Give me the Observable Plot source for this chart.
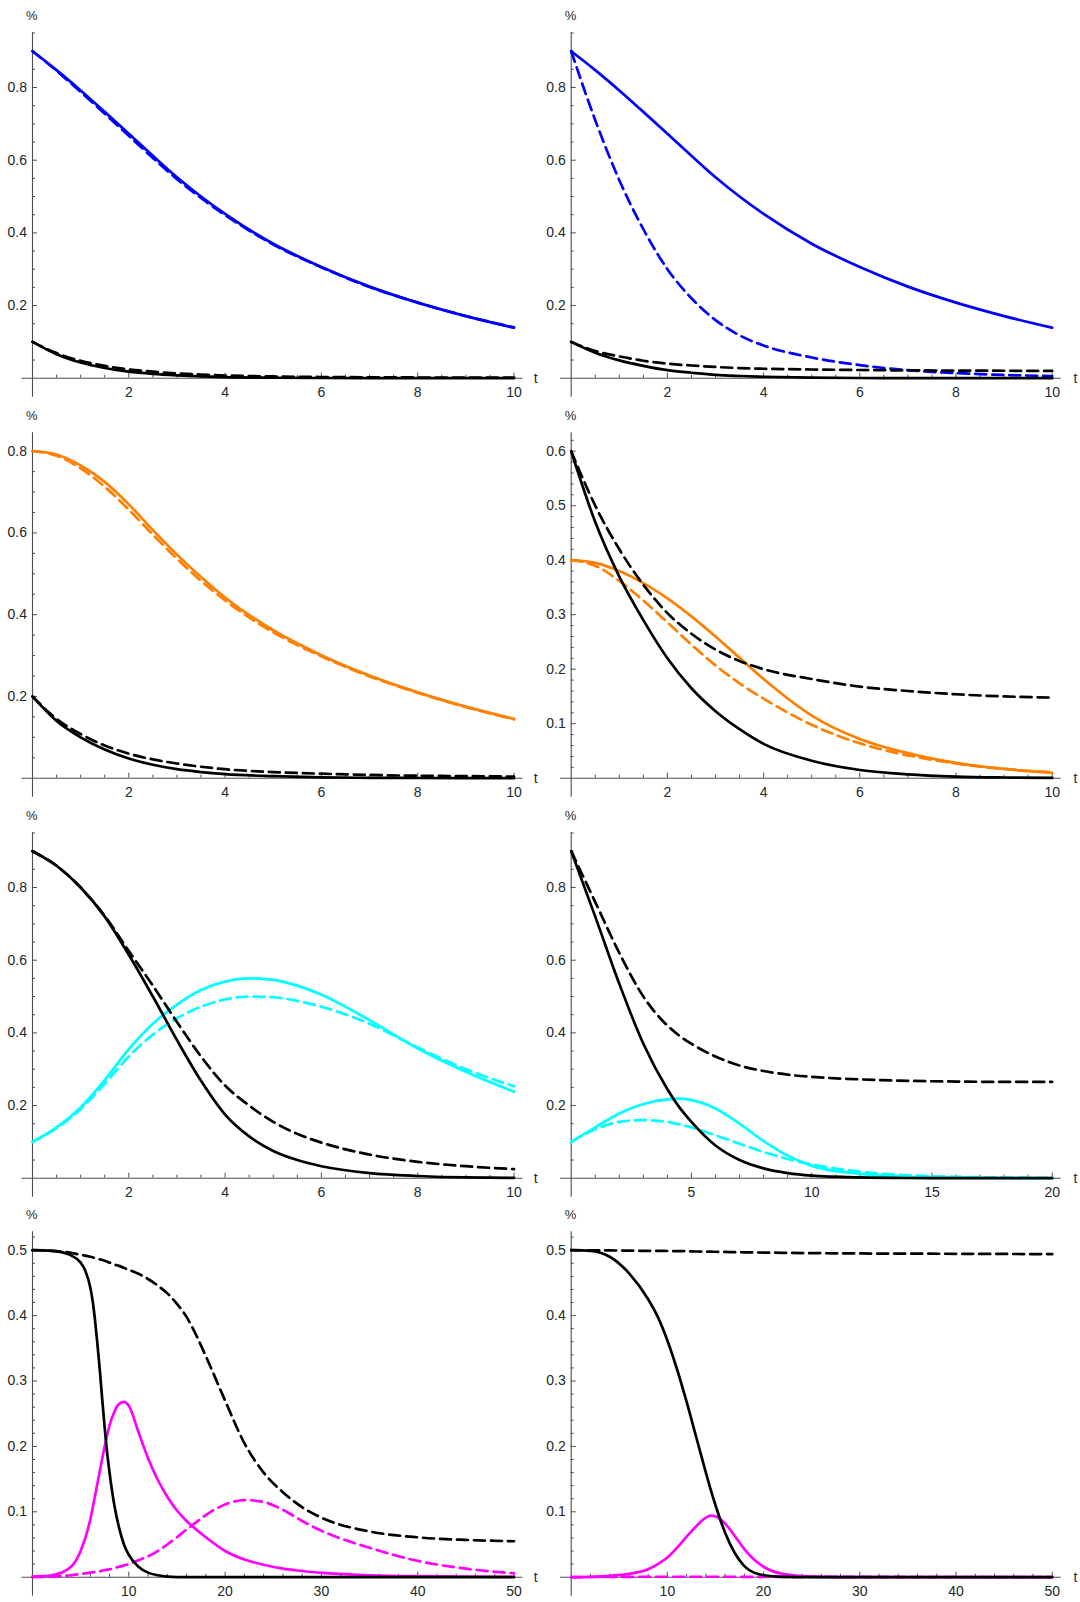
<!DOCTYPE html>
<html><head><meta charset="utf-8">
<script src="https://cdn.jsdelivr.net/npm/d3@7"></script>
<script src="https://cdn.jsdelivr.net/npm/@observablehq/plot@0.6"></script>
<style>
html,body{margin:0;padding:0;background:#fff;}
#root{position:relative;width:1080px;height:1602px;overflow:hidden;background:#fff;}
#root svg{position:absolute;background:transparent;}
</style></head><body><div id="root"></div>
<script>
// ---------- data ----------
// Row 1 left (A) and right (B)
const tA = [0,0.5,1,1.5,2,2.5,3,3.5,4,5,6,7,8,9,10];
const aBlue      = [0.9,0.848,0.792,0.733,0.673,0.612,0.553,0.5,0.452,0.37,0.306,0.252,0.208,0.171,0.139];
const aBlueDash  = [0.9,0.846,0.788,0.728,0.667,0.606,0.548,0.496,0.449,0.368,0.305,0.251,0.208,0.171,0.14];
const aBlack     = [0.1,0.066,0.043,0.028,0.018,0.012,0.008,0.005,0.003,0.0013,0.0005,0.0002,0.0001,0,0];
const aBlackDash = [0.1,0.069,0.048,0.034,0.024,0.018,0.013,0.01,0.0075,0.0048,0.0033,0.0025,0.002,0.0016,0.0014];
const bBlue      = [0.9,0.848,0.792,0.733,0.673,0.612,0.553,0.5,0.452,0.37,0.306,0.252,0.208,0.171,0.139];
const bBlueDash  = [0.9,0.71,0.545,0.41,0.3,0.22,0.16,0.118,0.09,0.057,0.036,0.022,0.014,0.009,0.006];
const bBlack     = [0.1,0.07,0.049,0.034,0.022,0.015,0.009,0.006,0.004,0.0015,0.0006,0.0002,0.0001,0,0];
const bBlackDash = [0.1,0.075,0.06,0.048,0.04,0.035,0.031,0.028,0.026,0.024,0.0225,0.0215,0.021,0.0205,0.02];
// Row 2 left (C) and right (D)
const cOrange     = [0.8,0.792,0.765,0.725,0.67,0.607,0.547,0.492,0.442,0.362,0.301,0.251,0.21,0.175,0.145];
const cOrangeDash = [0.8,0.789,0.758,0.713,0.657,0.596,0.537,0.483,0.435,0.357,0.298,0.249,0.209,0.174,0.144];
const cBlack      = [0.2,0.14,0.1,0.07,0.048,0.033,0.022,0.015,0.01,0.005,0.002,0.001,0.0005,0.0002,0.0001];
const cBlackDash  = [0.2,0.145,0.108,0.08,0.06,0.046,0.036,0.028,0.022,0.015,0.011,0.008,0.006,0.005,0.004];
const dBlack      = [0.6,0.47,0.37,0.29,0.22,0.165,0.123,0.09,0.063,0.032,0.015,0.007,0.003,0.0013,0.0005];
const dBlackDash  = [0.6,0.5,0.42,0.355,0.303,0.265,0.236,0.215,0.2,0.182,0.168,0.16,0.154,0.15,0.148];
const dOrange     = [0.4,0.395,0.38,0.358,0.33,0.297,0.26,0.221,0.182,0.115,0.072,0.046,0.028,0.017,0.01];
const dOrangeDash = [0.4,0.39,0.362,0.326,0.286,0.245,0.207,0.174,0.146,0.098,0.064,0.042,0.027,0.017,0.011];
// Row 3 left (E)
const tE = [0,0.5,1,1.5,2,2.5,3,3.5,4,4.5,5,5.5,6,7,8,9,10];
const eBlack     = [0.9,0.86,0.8,0.72,0.615,0.5,0.38,0.268,0.175,0.115,0.075,0.05,0.033,0.014,0.006,0.002,0.001];
const eBlackDash = [0.9,0.86,0.8,0.722,0.625,0.53,0.43,0.335,0.255,0.2,0.155,0.122,0.098,0.065,0.045,0.033,0.025];
const eCyan      = [0.1,0.14,0.195,0.27,0.355,0.425,0.478,0.518,0.541,0.55,0.546,0.53,0.505,0.435,0.357,0.293,0.238];
const eCyanDash  = [0.1,0.138,0.19,0.26,0.335,0.395,0.44,0.472,0.492,0.5,0.498,0.488,0.472,0.425,0.36,0.3,0.253];
// Row 3 right (F)
const tF = [0,1,2,3,4,4.5,5,6,7,8,9,10,12,14,16,18,20];
const fBlack     = [0.9,0.72,0.535,0.37,0.245,0.195,0.155,0.09,0.05,0.027,0.014,0.007,0.002,0.0005,0.0001,0,0];
const fBlackDash = [0.9,0.76,0.62,0.5,0.42,0.392,0.37,0.335,0.31,0.295,0.285,0.279,0.272,0.268,0.266,0.265,0.265];
const fCyan      = [0.1,0.14,0.178,0.204,0.217,0.219,0.215,0.192,0.15,0.102,0.062,0.034,0.012,0.004,0.0015,0.0005,0.0002];
const fCyanDash  = [0.1,0.135,0.155,0.16,0.155,0.148,0.14,0.118,0.095,0.072,0.053,0.038,0.018,0.008,0.004,0.002,0.001];
// Row 4 left (G)
const tG = [0,2,4,5,6,6.5,7,7.5,8,8.5,9,9.5,10,11,12,13,14,15,16,17,18,20,22,24,26,28,30,35,40,45,50];
const tGb = [0,2,3,4,5,5.5,6,6.25,6.5,6.75,7,7.25,7.5,7.75,8,8.5,9,9.5,10,11,12,13,14,16,20,30,50];
const gBlack     = [0.5,0.499,0.497,0.492,0.481,0.468,0.443,0.422,0.392,0.355,0.315,0.27,0.228,0.19,0.16,0.11,0.075,0.05,0.034,0.016,0.007,0.003,0.001,0,0,0,0];
const gBlackDash = [0.5,0.499,0.496,0.493,0.49,0.488,0.486,0.484,0.481,0.478,0.476,0.473,0.47,0.464,0.456,0.446,0.434,0.418,0.398,0.37,0.338,0.27,0.205,0.16,0.13,0.107,0.091,0.07,0.061,0.057,0.055];
const gMag       = [0.001,0.003,0.016,0.04,0.088,0.125,0.163,0.2,0.232,0.253,0.265,0.268,0.262,0.222,0.182,0.149,0.123,0.102,0.086,0.073,0.061,0.04,0.027,0.019,0.013,0.0095,0.0065,0.003,0.0015,0.0008,0.0005];
const gMagDash   = [0,0.001,0.003,0.005,0.007,0.008,0.009,0.011,0.012,0.014,0.016,0.018,0.02,0.026,0.032,0.04,0.05,0.061,0.073,0.084,0.095,0.111,0.118,0.115,0.103,0.086,0.071,0.045,0.025,0.013,0.006];
// Row 4 right (H)
const tH = [0,2,4,6,8,9,10,11,12,13,14,14.5,15,16,17,18,19,20,22,25,30,40,50];
const hBlack     = [0.5,0.499,0.49,0.465,0.425,0.398,0.362,0.318,0.268,0.214,0.16,0.134,0.11,0.068,0.037,0.017,0.007,0.003,0.0005,0,0,0,0];
const hBlackDash = [0.5,0.4998,0.4996,0.4993,0.499,0.499,0.4988,0.4986,0.4984,0.498,0.4978,0.4977,0.4976,0.4974,0.497,0.4968,0.4966,0.4964,0.496,0.4955,0.495,0.4945,0.494];
const hMag       = [0,0.0005,0.002,0.005,0.012,0.02,0.03,0.045,0.062,0.078,0.091,0.094,0.093,0.082,0.063,0.043,0.027,0.016,0.005,0.001,0,0,0];
const hMagDash   = [0,0.0003,0.0005,0.0006,0.0007,0.0007,0.0007,0.0007,0.0007,0.0007,0.0007,0.0007,0.0007,0.0007,0.0007,0.0006,0.0006,0.0006,0.0005,0.0005,0.0004,0.0003,0.0002];

// tick labels
const xTicks10 = [2,4,6,8,10];
const xTicks20 = [5,10,15,20];
const xTicks50 = [10,20,30,40,50];
const yTicks09 = [0.2,0.4,0.6,0.8];
const yTicks06 = [0.1,0.2,0.3,0.4,0.5,0.6];
const yTicks05 = [0.1,0.2,0.3,0.4,0.5];

// ---------- styling ----------
const BLUE = "#0000ff", ORANGE = "#ff8000", CYAN = "#00ffff", MAGENTA = "#ff00ff", BLACK = "#000000";
const AXIS = "#4d4d4d", TEXT = "#262626", FONT = "Liberation Sans, Arial, sans-serif";
const FS = 14;
const DASH = "11,6";

function minorTicks(step, max, majors) {
  const out = [];
  for (let k = 1; k * step <= max + 1e-9; k++) {
    const v = +(k * step).toFixed(6);
    if (!majors.some(m => Math.abs(m - v) < 1e-9)) out.push(v);
  }
  return out;
}
function rows(t, v) { return t.map((x, i) => ({t: x, v: v[i]})); }

const panels = [
  {col:0,row:0,xMax:10,yMax:0.9,xMajor:xTicks10,xStep:0.5,yMajor:yTicks09,yStep:0.05,yTop:0.95,
   series:[[tA,aBlue,BLUE,false],[tA,aBlueDash,BLUE,true],[tA,aBlack,BLACK,false],[tA,aBlackDash,BLACK,true]]},
  {col:1,row:0,xMax:10,yMax:0.9,xMajor:xTicks10,xStep:0.5,yMajor:yTicks09,yStep:0.05,yTop:0.95,
   series:[[tA,bBlue,BLUE,false],[tA,bBlueDash,BLUE,true],[tA,bBlack,BLACK,false],[tA,bBlackDash,BLACK,true]]},
  {col:0,row:1,xMax:10,yMax:0.8,xMajor:xTicks10,xStep:0.5,yMajor:yTicks09,yStep:0.05,yTop:0.84,
   series:[[tA,cOrange,ORANGE,false],[tA,cOrangeDash,ORANGE,true],[tA,cBlack,BLACK,false],[tA,cBlackDash,BLACK,true]]},
  {col:1,row:1,xMax:10,yMax:0.6,xMajor:xTicks10,xStep:0.5,yMajor:yTicks06,yStep:0.02,yTop:0.63,
   series:[[tA,dOrange,ORANGE,false],[tA,dOrangeDash,ORANGE,true],[tA,dBlack,BLACK,false],[tA,dBlackDash,BLACK,true]]},
  {col:0,row:2,xMax:10,yMax:0.9,xMajor:xTicks10,xStep:0.5,yMajor:yTicks09,yStep:0.05,yTop:0.95,
   series:[[tE,eCyan,CYAN,false],[tE,eCyanDash,CYAN,true],[tE,eBlack,BLACK,false],[tE,eBlackDash,BLACK,true]]},
  {col:1,row:2,xMax:20,yMax:0.9,xMajor:xTicks20,xStep:1,yMajor:yTicks09,yStep:0.05,yTop:0.95,
   series:[[tF,fCyan,CYAN,false],[tF,fCyanDash,CYAN,true],[tF,fBlack,BLACK,false],[tF,fBlackDash,BLACK,true]]},
  {col:0,row:3,xMax:50,yMax:0.5,xMajor:xTicks50,xStep:2,yMajor:yTicks05,yStep:0.02,yTop:0.525,
   series:[[tG,gMag,MAGENTA,false],[tG,gMagDash,MAGENTA,true],[tGb,gBlack,BLACK,false],[tG,gBlackDash,BLACK,true]]},
  {col:1,row:3,xMax:50,yMax:0.5,xMajor:xTicks50,xStep:2,yMajor:yTicks05,yStep:0.02,yTop:0.525,
   series:[[tH,hMag,MAGENTA,false],[tH,hMagDash,MAGENTA,true],[tH,hBlack,BLACK,false],[tH,hBlackDash,BLACK,true]]}
];

const rowTop = [0, 400, 800, 1199];
const root = document.getElementById("root");

for (const p of panels) {
  const mL = p.col === 0 ? 32 : 30.7;
  const mR = p.col === 0 ? 26.5 : 28.3;
  const tDx = p.col === 0 ? 21.8 : 23.3;
  const xMinor = minorTicks(p.xStep, p.xMax, p.xMajor);
  const yMinor = minorTicks(p.yStep, p.yTop, p.yMajor);
  const lines = p.series.map(([t, v, color, dashed]) =>
    Plot.line(rows(t, v), {x: "t", y: "v", stroke: color, strokeWidth: 2.7,
      strokeDasharray: dashed ? DASH : null, curve: "monotone-x"}));
  const svg = Plot.plot({
    width: 540, height: 400,
    marginLeft: mL, marginRight: mR, marginTop: 50.7, marginBottom: 22.3,
    x: {domain: [0, p.xMax], axis: null},
    y: {domain: [0, p.yMax], axis: null},
    style: {background: "transparent", overflow: "visible", fontSize: FS + "px", fontFamily: FONT},
    marks: [
      Plot.ruleY([0], {stroke: AXIS, strokeWidth: 1.1, insetLeft: -10.5, insetRight: -9}),
      Plot.ruleX([0], {stroke: AXIS, strokeWidth: 1.1, insetTop: -18.4, insetBottom: -19}),
      Plot.ruleX(xMinor, {x: d => d, y1: () => 0, y2: () => 0, insetTop: -3, stroke: AXIS}),
      Plot.ruleX(p.xMajor, {x: d => d, y1: () => 0, y2: () => 0, insetTop: -5, stroke: AXIS}),
      Plot.ruleY(yMinor, {y: d => d, x1: () => 0, x2: () => 0, insetRight: -3, stroke: AXIS}),
      Plot.ruleY(p.yMajor, {y: d => d, x1: () => 0, x2: () => 0, insetRight: -5, stroke: AXIS}),
      Plot.text(p.xMajor, {x: d => d, y: () => 0, dy: 14, text: d => String(d),
        fill: TEXT, fontSize: FS, fontFamily: FONT}),
      Plot.text(p.yMajor, {x: () => 0, y: d => d, dx: -5.5, textAnchor: "end", text: d => String(d),
        fill: TEXT, fontSize: FS, fontFamily: FONT}),
      Plot.text(["%"], {x: () => 0, y: () => p.yMax, dy: -35.7, dx: -0.6, text: d => d,
        fill: TEXT, fontSize: FS - 1, fontFamily: FONT}),
      Plot.text(["t"], {x: () => p.xMax, y: () => 0, dx: tDx, text: d => d,
        fill: TEXT, fontSize: FS, fontFamily: FONT}),
      ...lines
    ]
  });
  svg.style.left = (p.col * 540) + "px";
  svg.style.top = rowTop[p.row] + "px";
  root.appendChild(svg);
}
</script></body></html>
